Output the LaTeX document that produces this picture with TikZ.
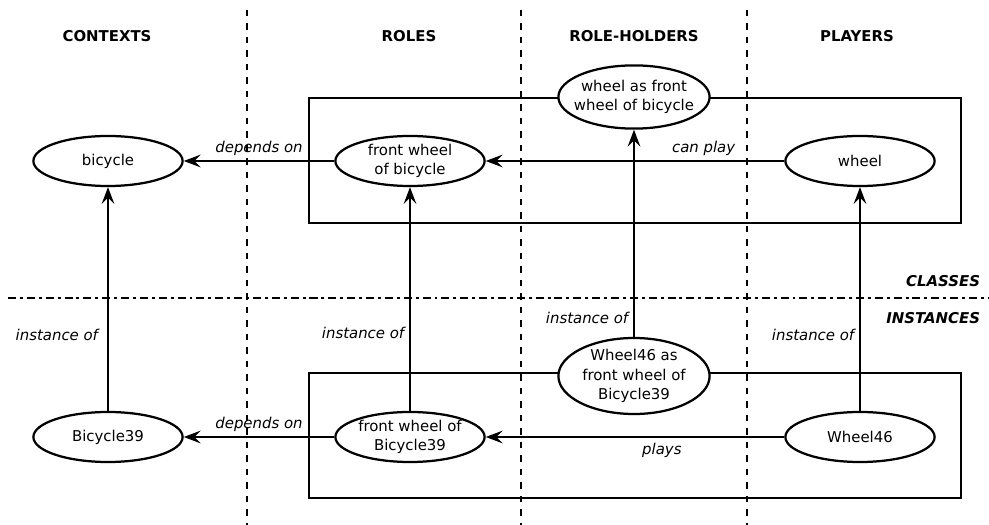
\documentclass[tikz,border=0pt]{standalone}
\usepackage{fontspec}
\setmainfont{DejaVu Sans}
\usepackage{tikz}
\usetikzlibrary{
  positioning,
  arrows.meta,
  shapes.geometric
}

\begin{document}
\begin{tikzpicture}[
    x=0.025cm, y=-0.025cm,
    >={Stealth[length=12pt, width=9pt, inset=4.5pt]},
    every node/.style={font=\fontsize{10.6}{14}\selectfont},
    thing/.style={ellipse, draw, line width=1.6pt, fill=white, align=center,
        inner xsep=-8pt, inner ysep=-6pt, minimum width=3.73cm, minimum height=1.25cm},
    holder/.style={thing, minimum width=3.78cm},
    arr/.style={->, line width=1.6pt},
    rel/.style={font=\fontsize{10.6}{14}\selectfont\itshape},
    head/.style={font=\fontsize{10.6}{14}\selectfont\bfseries},
    level/.style={font=\fontsize{10.6}{14}\selectfont\bfseries\itshape, anchor=east},
    sep/.style={line width=1.6pt, dash pattern=on 4.3pt off 5.3pt},
    split/.style={line width=1.6pt, dash pattern=on 5.7pt off 2.8pt on 2.1pt off 2.8pt}
]
    \useasboundingbox (0,0) rectangle (989,525);

    % 栏目标题
    \node[head] (contexts) at (107,36) {CONTEXTS};
    \node[head] (roles) at (409,36) {ROLES};
    \node[head] (holders) at (634,36) {ROLE-HOLDERS};
    \node[head] (players) at (857,36) {PLAYERS};

    % 分隔线
    \draw[sep] (247,10) -- (247,525);
    \draw[sep] (521,10) -- (521,525);
    \draw[sep] (747,10) -- (747,525);
    \draw[split] (8,298) -- (989,298);

    \node[level] (classes) at (985,281) {CLASSES};
    \node[level] (instances) at (985,318) {INSTANCES};

    % 外框
    \draw[line width=1.6pt] (309,98) rectangle (961,223);
    \draw[line width=1.6pt] (309,373) rectangle (961,498);

    % 类
    \node[thing] (bicycle) at (108,161) {bicycle};
    \node[thing] (fwb) at (410,161) {front wheel\\of bicycle};
    \node[holder, minimum height=1.58cm] (wafw) at (634,97) {wheel as front\\wheel of bicycle};
    \node[thing] (wheel) at (860,161) {wheel};

    % 实例
    \node[thing] (bike39) at (108,437) {Bicycle39};
    \node[thing] (fwb39) at (410,437) {front wheel of\\Bicycle39};
    \node[holder, minimum height=1.9cm] (w46afw) at (634,376) {Wheel46 as\\front wheel of\\Bicycle39};
    \node[thing] (w46) at (860,437) {Wheel46};

    % 关系
    \draw[arr] (fwb) -- node[rel, above] {depends on} (bicycle);
    \draw[arr] (wheel) -- node[rel, above, pos=0.27] {can play} (fwb);
    \draw[arr] (fwb39) -- node[rel, above] {depends on} (bike39);
    \draw[arr] (w46) -- node[rel, below, pos=0.41] {plays} (fwb39);

    \draw[arr] (bike39) -- node[rel, left=3pt, pos=0.34] {instance of} (bicycle);
    \draw[arr] (fwb39) -- node[rel, left, pos=0.35] {instance of} (fwb);
    \draw[arr] (w46afw) -- node[rel, left, pos=0.09] {instance of} (wafw);
    \draw[arr] (w46) -- node[rel, left, pos=0.34] {instance of} (wheel);
\end{tikzpicture}
\end{document}
